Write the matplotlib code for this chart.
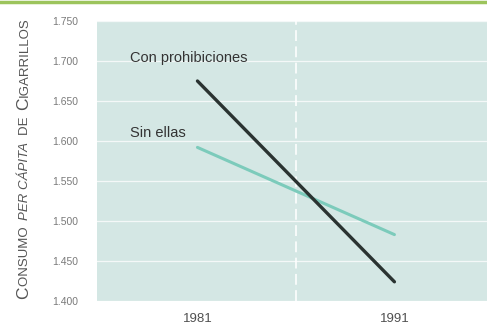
import matplotlib
matplotlib.use("Agg")
import matplotlib.pyplot as plt
from matplotlib.ticker import FuncFormatter
from matplotlib.lines import Line2D

plt.rcParams['font.family'] = ['Liberation Sans', 'DejaVu Sans']

# per-capita cigarette consumption, two scenarios
years = [1981, 1991]
con_prohibiciones = [1675, 1424]
sin_ellas = [1592, 1483]
y_ticks = [1400, 1450, 1500, 1550, 1600, 1650, 1700, 1750]
x_ticks = [1981, 1991]

bg = '#d4e7e4'
fig = plt.figure(figsize=(4.87, 3.35), dpi=100)
ax = fig.add_axes([97 / 487, 34 / 335, 390 / 487, 280 / 335])
ax.set_facecolor(bg)

ax.set_xlim(1975.9, 1995.7)
ax.set_ylim(1400, 1750)

ax.set_yticks(y_ticks)
ax.yaxis.set_major_formatter(FuncFormatter(lambda v, p: f"{int(v) // 1000}.{int(v) % 1000:03d}"))
ax.set_xticks(x_ticks)
ax.tick_params(axis='y', length=0, pad=32, labelsize=7.5, labelcolor='#7a7a7a')
ax.tick_params(axis='x', length=0, pad=9, labelsize=9.5, labelcolor='#505050')
for lab in ax.get_yticklabels():
    lab.set_horizontalalignment('left')

for s in ax.spines.values():
    s.set_visible(False)

ax.grid(axis='y', color='white', lw=0.9, alpha=0.75)
ax.set_axisbelow(True)
ax.axvline(1986, color='white', lw=1.3, ls=(0, (6, 3)), alpha=0.9)

ax.plot(years, sin_ellas, color='#7ccbbb', lw=2.2, solid_capstyle='round')
ax.plot(years, con_prohibiciones, color='#2a3331', lw=2.4, solid_capstyle='round')

ax.text(1977.6, 1704, 'Con prohibiciones', fontsize=10.5, color='#333333', va='center')
ax.text(1977.6, 1610, 'Sin ellas', fontsize=10.5, color='#333333', va='center')

# green rule across the top
fig.add_artist(Line2D([0, 1], [0.995, 0.995], transform=fig.transFigure, color='#9cc45c', lw=2.5))

# small-caps style axis title built from pieces, rotated
pieces = [('C', 12.5, 'normal'), ('ONSUMO ', 9.5, 'normal'), ('PER CÁPITA ', 9.5, 'italic'),
          ('DE ', 9.5, 'normal'), ('C', 12.5, 'normal'), ('IGARRILLOS', 9.5, 'normal')]
fig.canvas.draw()
renderer = fig.canvas.get_renderer()
ypos = 36
for txt, size, style in pieces:
    t = fig.text(28 / 487, ypos / 335, txt, fontsize=size, style=style, color='#555555',
                 rotation=90, rotation_mode='anchor', ha='left', va='baseline')
    bb = t.get_window_extent(renderer)
    ypos = bb.y1 + (3.5 if txt.endswith(' ') else 0)

fig.savefig('out.png', dpi=100)
